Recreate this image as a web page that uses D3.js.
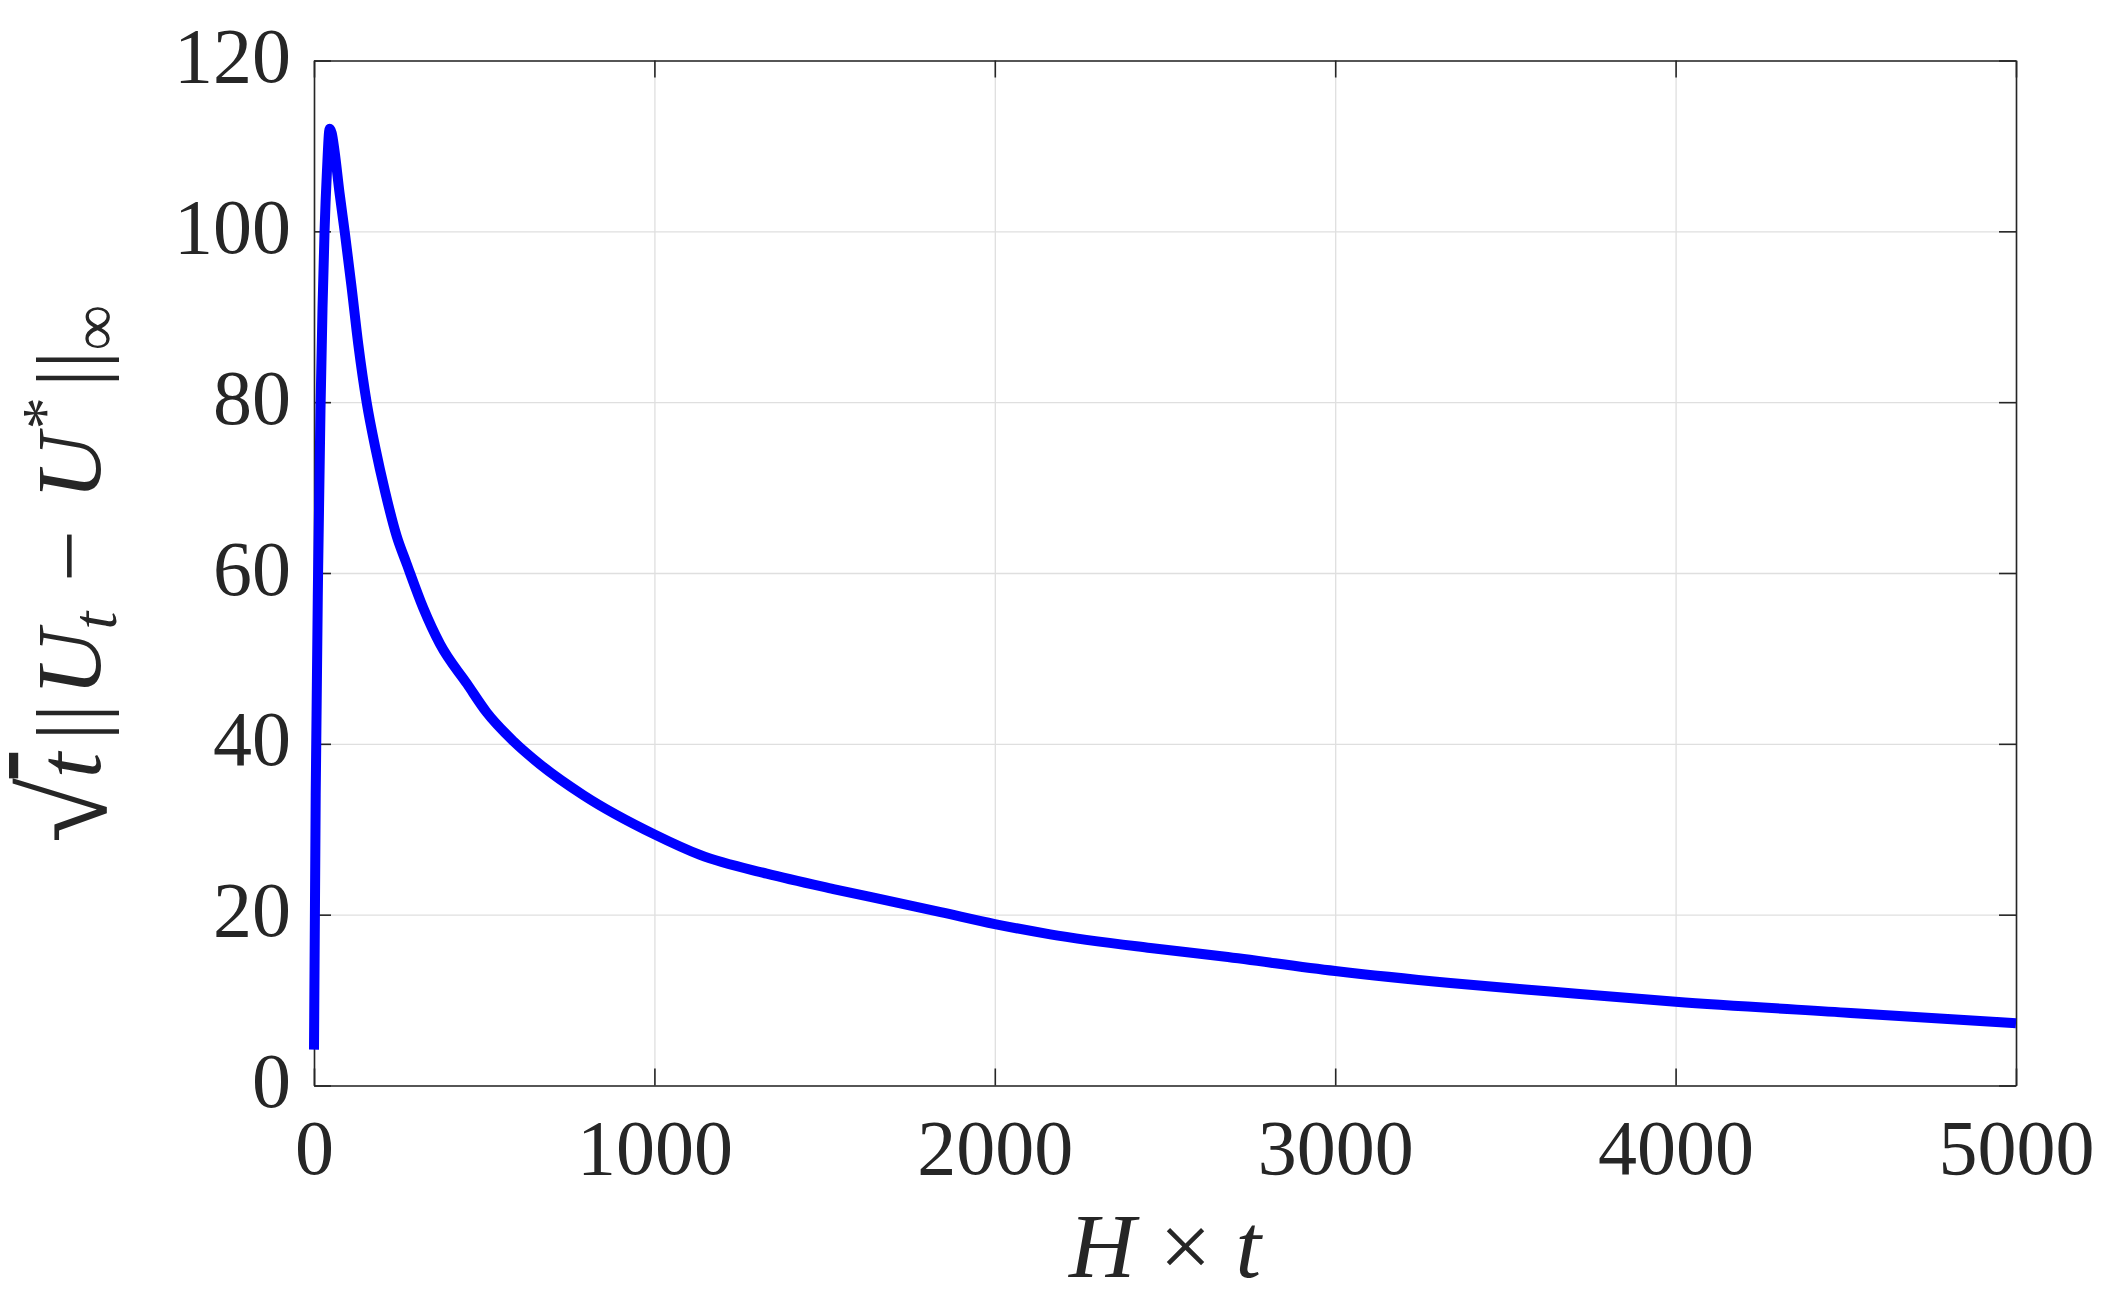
<!DOCTYPE html>
<html>
<head>
<meta charset="utf-8">
<script src="https://cdn.jsdelivr.net/npm/d3@7"></script>
<style>
  body { margin: 0; background: #fff; }
  svg text { font-family: "Liberation Serif", "Times New Roman", serif; fill: #262626; }
</style>
</head>
<body>
<svg id="graph"></svg>
<script>
// values
var tValues = [0, 5, 12, 19, 25, 31, 38, 46, 52, 60, 75, 91, 110, 130, 155, 180, 209, 243, 272, 321, 370,
  450, 507, 586, 664, 791, 1000, 1134, 1330, 1526, 1702, 1841, 2000, 2163, 2457, 2672,
  3000, 3338, 3632, 4000, 4514, 5000];
var errValues = [4.2, 34, 60, 79, 91, 100, 107, 112, 111.5, 109.5, 104.5, 99.7, 93.6, 86.8, 79.9, 74.7, 69.5, 64.3, 61.1, 55.9, 51.7,
  47, 43.7, 40.3, 37.6, 34.0, 29.4, 27.0, 24.8, 23.0, 21.5, 20.3, 18.9, 17.7, 16.1, 15.1,
  13.4, 12.0, 11.0, 9.8, 8.5, 7.3];
var xTicks = [0, 1000, 2000, 3000, 4000, 5000];
var yTicks = [0, 20, 40, 60, 80, 100, 120];

var W = 2106, H = 1302;
var margin = {top: 60.5, left: 314, right: 90, bottom: 216.5},
  width = W - margin.left - margin.right,
  height = H - margin.top - margin.bottom;

var graph = d3.select("#graph").attr("width", W).attr("height", H),
  g = graph.append("g").attr("transform", "translate(" + margin.left + "," + margin.top + ")");

var x = d3.scaleLinear().domain([0, 5000]).range([0, width]),
  y = d3.scaleLinear().domain([0, 120]).range([height, 0]);

var data = tValues.map(function(t, i) { return {t: t, v: errValues[i]}; });

// grid
g.append("g").attr("class", "grid")
  .attr("transform", "translate(0," + height + ")")
  .call(d3.axisBottom(x).tickValues(xTicks).tickSize(-height).tickFormat(""));
g.append("g").attr("class", "grid")
  .call(d3.axisLeft(y).tickValues(yTicks).tickSize(-width).tickFormat(""));
g.selectAll(".grid .domain").remove();
g.selectAll(".grid line").attr("stroke", "#dfdfdf").attr("stroke-width", 1.3);

// axes, ticks pointing inward on all four sides
var tickLen = 17;
var xAxis = g.append("g").attr("class", "axis")
  .attr("transform", "translate(0," + height + ")")
  .call(d3.axisBottom(x).tickValues(xTicks).tickSizeInner(-tickLen).tickSizeOuter(0).tickPadding(33).tickFormat(d3.format("d")));
var yAxis = g.append("g").attr("class", "axis")
  .call(d3.axisLeft(y).tickValues(yTicks).tickSizeInner(-tickLen).tickSizeOuter(0).tickPadding(23).tickFormat(d3.format("d")));
g.append("g").attr("class", "axis")
  .call(d3.axisTop(x).tickValues(xTicks).tickSizeInner(-tickLen).tickSizeOuter(0).tickFormat(""));
g.append("g").attr("class", "axis")
  .attr("transform", "translate(" + width + ",0)")
  .call(d3.axisRight(y).tickValues(yTicks).tickSizeInner(-tickLen).tickSizeOuter(0).tickFormat(""));

g.selectAll(".axis .domain").attr("stroke", "#262626").attr("stroke-width", 1.6);
g.selectAll(".axis line").attr("stroke", "#262626").attr("stroke-width", 1.6);
g.selectAll(".axis text")
  .attr("font-family", "Liberation Serif, serif")
  .attr("font-size", 78)
  .attr("fill", "#262626");
yAxis.selectAll("text").attr("dy", "0.27em");

// the curve
var lineFunc = d3.line()
  .x(function(d) { return x(d.t); })
  .y(function(d) { return y(d.v); })
  .curve(d3.curveMonotoneX);

g.append("path")
  .datum(data)
  .attr("fill", "none")
  .attr("stroke", "#0000ff")
  .attr("stroke-width", 10)
  .attr("stroke-linejoin", "round")
  .attr("stroke-linecap", "butt")
  .attr("d", lineFunc);

// x label: H x t
var xl = graph.append("text")
  .attr("x", margin.left + width / 2)
  .attr("y", 1277)
  .attr("text-anchor", "middle")
  .attr("font-size", 92);
xl.append("tspan").attr("font-style", "italic").text("H");
xl.append("tspan").attr("dx", 24).text("×");
xl.append("tspan").attr("dx", 24).attr("font-style", "italic").text("t");

// y label: sqrt(t) ||U_t - U*||_inf
var yl = graph.append("text")
  .attr("transform", "translate(100," + 574 + ") rotate(-90)")
  .attr("text-anchor", "middle")
  .attr("font-size", 92);
yl.append("tspan").attr("font-size", 118).attr("dy", 6).text("√");
yl.append("tspan").attr("dy", -6).attr("font-style", "italic").style("text-decoration", "overline").text("t");
yl.append("tspan").attr("dx", 12).text("||");
yl.append("tspan").attr("font-style", "italic").attr("dx", 8).text("U");
yl.append("tspan").attr("font-style", "italic").attr("font-size", 64).attr("dy", 16).text("t");
yl.append("tspan").attr("dy", -16).attr("dx", 30).text("−");
yl.append("tspan").attr("font-style", "italic").attr("dx", 30).text("U");
yl.append("tspan").attr("font-size", 64).attr("dy", -34).attr("dx", 4).text("*");
yl.append("tspan").attr("dy", 34).attr("dx", 10).text("||");
yl.append("tspan").attr("font-size", 64).attr("dy", 16).text("∞");
</script>
</body>
</html>
